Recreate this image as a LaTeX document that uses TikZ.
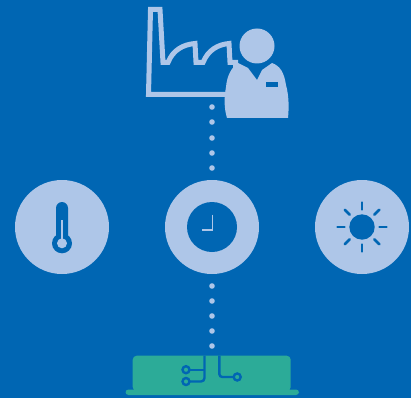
\documentclass[tikz,border=0pt]{standalone}
\usepackage{tikz}
\usetikzlibrary{calc}
\definecolor{nback}{HTML}{0066B3}
\definecolor{nlight}{HTML}{AEC6E8}
\definecolor{ngreen}{HTML}{2CAB98}
\tikzset{
 disc/.style={fill=nlight},
 dot/.style={fill=nlight},
 wire/.style={draw=nback, line width=2.4pt},
 ray/.style={draw=nback, line width=2.6pt, line cap=round},
}
\begin{document}
\begin{tikzpicture}[x=1pt,y=-1pt]
 \fill[nback] (0,0) rectangle (411,398);
 \useasboundingbox (0,0) rectangle (411,398);
 % factory
 \draw[nlight, line width=5pt, miter limit=4] (226,94.5) -- (148.5,94.5) -- (150.5,9.5) -- (160,9.5) -- (163,62.5) -- (168,62.5)
   .. controls (173,50) and (183,44.5) .. (195,43.5) -- (196,62.5) -- (203,62.5)
   .. controls (208,50) and (218,44.5) .. (229,43.5) -- (230,62.5) -- (235.5,62.5) -- (235.5,68);
 % person
 \fill[nlight] (257,46) circle (17.5);
 \fill[nlight] (238,63) -- (248,68) -- (257,80) -- (262,70) -- (272,63)
   .. controls (280,66) and (284,72) .. (286,85)
   .. controls (289,96) and (289,108) .. (288,118) -- (227,118)
   .. controls (224,108) and (224,98) .. (226,87)
   .. controls (227,76) and (231,68) .. (238,63) -- cycle;
 \fill[nback] (266,82) rectangle (278,87);
 % dots
 \foreach \y in {107,122,138,153,168,286,301,316,331,346}
  \fill[dot] (212,\y) circle (2.8);
 % sensors
 \coordinate (thermo) at (62,227);
 \coordinate (clock) at (212,227);
 \coordinate (sun) at (362,227);
 \foreach \c in {thermo,clock,sun}
  \fill[disc] (\c) circle (47);
 % thermometer
 \fill[nback] (56,208) arc[start angle=180,end angle=360,radius=6] -- (68,240) -- (56,240) -- cycle;
 \fill[nback] (62,243.3) circle (10);
 \fill[nlight] (62,243.3) circle (5);
 \fill[nlight] (60.8,220) rectangle (63.2,243);
 % clock
 \fill[nback] (clock) circle (25);
 \draw[nlight, line width=1.8pt] (212.5,214.5) -- (212.5,230) -- (202,230);
 % sun
 \fill[nback] (sun) circle (12.7);
 \foreach \a in {0,45,...,315}
  \draw[ray] ($(sun)+(\a:17.5)$) -- ($(sun)+(\a:24.5)$);
 % gateway
 \fill[ngreen, rounded corners=3pt] (125.5,395) -- (125.5,389.5) -- (299,389.5) -- (299,395) -- cycle;
 \fill[ngreen, rounded corners=4pt] (132.7,391) -- (132.7,355.7) -- (290.7,355.7) -- (290.7,391) -- cycle;
 \draw[wire] (204.5,355.7) -- (204.5,378) arc[start angle=0,end angle=90,radius=3.5] -- (189.5,381.5);
 \draw[wire] (189.5,369.7) -- (204.5,369.7);
 \draw[wire] (219.3,355.7) -- (219.3,374) arc[start angle=180,end angle=90,radius=3] -- (233.5,377);
 \draw[wire] (186,369.7) circle (3.5);
 \draw[wire] (186,381.5) circle (3.5);
 \draw[wire] (237.2,377) circle (3.5);
\end{tikzpicture}
\end{document}
